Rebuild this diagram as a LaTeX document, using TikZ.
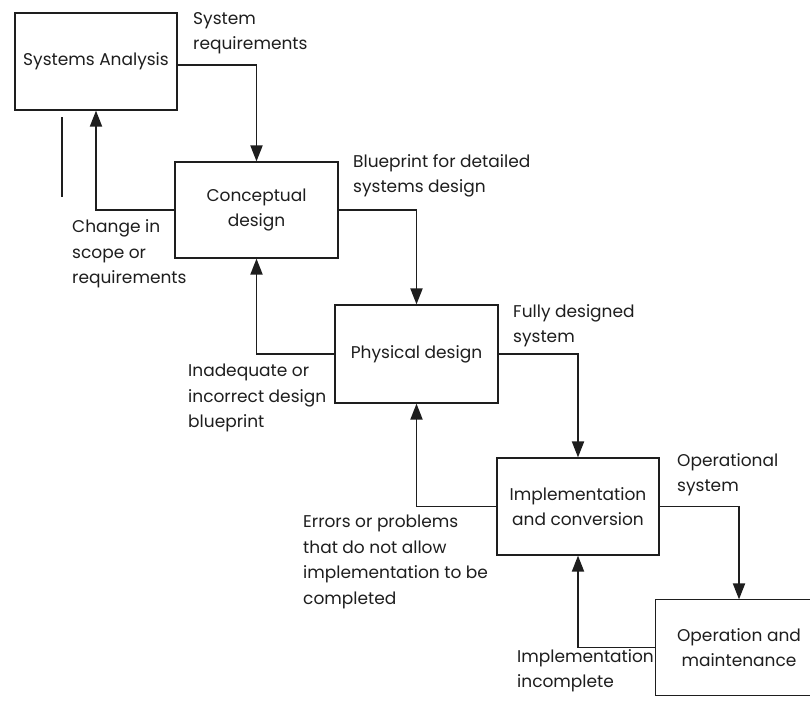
\documentclass[tikz,border=0pt]{standalone}
\usepackage{fontspec}
\setmainfont{Poppins}
\usetikzlibrary{arrows.meta}
\definecolor{ink}{HTML}{1E1E1E}
\begin{document}
\begin{tikzpicture}[x=1pt,y=-1pt,
  txt/.style={font=\fontsize{17}{25.5}\selectfont, text=ink},
  box/.style={txt, draw=ink, line width=1.2pt, inner sep=0pt, align=center,
              minimum width=162pt, minimum height=97pt},
  lbl/.style={txt, anchor=west, inner sep=0pt, align=left},
  flow/.style={draw=ink, line width=1.9pt, -{Triangle[length=16pt,width=12pt]}},
]
\useasboundingbox (0,0) rectangle (810,702);
\fill[white] (0,0) rectangle (810,702);

% boxes
\node[box] (sa) at (96,61.5) {Systems Analysis};
\node[box, minimum width=163pt, minimum height=96pt] (cd) at (256.5,210) {Conceptual\\design};
\node[box, minimum width=163pt, minimum height=98pt] (pd) at (416.5,354) {Physical design};
\node[box] (ic) at (578,506.5) {Implementation\\and conversion};
\node[box, draw=none, minimum width=166pt, minimum height=95pt] (om) at (739,647.5) {Operation and\\maintenance};
\coordinate (omr) at (812,0);
\draw[ink, line width=1.2pt] (omr |- om.north) -- (om.north west) -- (om.south west) -- (omr |- om.south);

% forward flows
\draw[flow] ([yshift=-3.5pt]sa.east) -| (cd.north);
\draw[flow] (cd.east) -| (pd.north);
\draw[flow] (pd.east) -| (ic.north);
\draw[flow] (ic.east) -| (om.north);

% feedback flows
\draw[flow] (cd.west) -| (sa.south);
\draw[flow] (pd.west) -| (cd.south);
\draw[flow] (ic.west) -| (pd.south);
\draw[flow] (om.west) -| (ic.south);

% stray line
\coordinate (s1) at (62,117);
\coordinate (s2) at (62,197);
\draw[ink, line width=1.2pt] (s1) -- (s2);

% labels
\node[lbl] (l1) at (193,33) {System\\requirements};
\node[lbl] (l2) at (72,254) {Change in\\scope or\\requirements};
\node[lbl] (l3) at (353,176) {Blueprint for detailed\\systems design};
\node[lbl] (l4) at (188,398) {Inadequate or\\incorrect design\\blueprint};
\node[lbl] (l5) at (513,325.5) {Fully designed\\system};
\node[lbl] (l6) at (303,562) {Errors or problems\\that do not allow\\implementation to be\\completed};
\node[lbl] (l7) at (677,474.5) {Operational\\system};
\node[lbl] (l8) at (517,670.5) {Implementation\\incomplete};
\end{tikzpicture}
\end{document}
